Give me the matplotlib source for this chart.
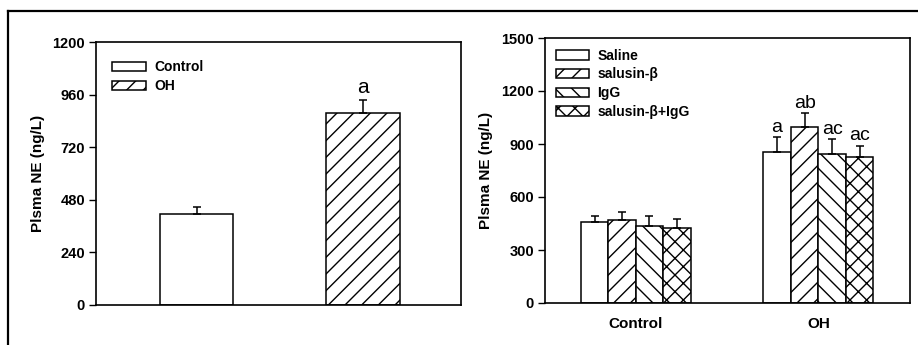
import matplotlib
matplotlib.use('Agg')
from matplotlib import pyplot as plt
from matplotlib.lines import Line2D
import numpy as np

plt.rcParams['font.family'] = ['Liberation Sans', 'DejaVu Sans']
plt.rcParams['hatch.linewidth'] = 1.0

# ---- left panel data
left_groups = ['Control', 'OH']
left_means = [415, 875]
left_err = [31, 60]
left_letters = ['', 'a']

# ---- right panel data
right_groups = ['Control', 'OH']
right_series = ['Saline', 'salusin-\u03b2', 'IgG', 'salusin-\u03b2+IgG']
saline = [457, 856]
salusin = [470, 994]
igg = [434, 842]
combo = [426, 828]
saline_err = [35, 82]
salusin_err = [47, 80]
igg_err = [57, 85]
combo_err = [49, 63]
oh_letters = ['a', 'ab', 'ac', 'ac']

fig = plt.figure(figsize=(9.18, 3.45), dpi=100)

# outer frame lines (cropped figure border)
fig.add_artist(Line2D([8/918, 1.0], [1 - 11/345, 1 - 11/345], color='black', lw=1.6))
fig.add_artist(Line2D([8/918, 8/918], [0, 1 - 11/345], color='black', lw=1.6))

def style_axes(ax):
    for s in ax.spines.values():
        s.set_linewidth(1.2)
    ax.tick_params(axis='y', direction='out', length=5, width=1.0, labelsize=10.5, pad=3)
    ax.tick_params(axis='x', length=0, labelsize=11, pad=10)
    for lab in ax.get_yticklabels() + ax.get_xticklabels():
        lab.set_fontweight('bold')

# ---- left
ax1 = fig.add_axes([96/918, 1 - 305/345, 365/918, 263/345])
x = np.arange(len(left_groups))
hatches_l = ['', '//']
w = 0.44
for i in range(len(left_groups)):
    ax1.bar(x[i], left_means[i], w, color='white', edgecolor='black', lw=1.1,
            hatch=hatches_l[i], label=left_groups[i], zorder=2)
    ax1.errorbar(x[i], left_means[i], yerr=[[0], [left_err[i]]], fmt='none',
                 ecolor='black', elinewidth=1.1, capsize=2.6, capthick=1.1, zorder=3)
    if left_letters[i]:
        ax1.text(x[i], left_means[i] + left_err[i] + 32, left_letters[i],
                 ha='center', va='baseline', fontsize=15)
ax1.set_xlim(-0.604, 1.589)
ax1.set_ylim(0, 1200)
ax1.set_yticks([0, 240, 480, 720, 960, 1200])
ax1.set_xticks([])
ax1.set_ylabel('Plsma NE (ng/L)', fontsize=11, fontweight='bold', labelpad=5)
style_axes(ax1)
ax1.legend(loc='upper left', bbox_to_anchor=(0.045, 0.93), frameon=False,
           borderpad=0, borderaxespad=0, handlelength=2.4, handleheight=0.7,
           labelspacing=0.35, handletextpad=0.6,
           prop={'size': 10, 'weight': 'bold'})

# ---- right
ax2 = fig.add_axes([545/918, 1 - 303/345, 365/918, 265/345])
xr = np.arange(len(right_groups))
vals = [saline, salusin, igg, combo]
errs = [saline_err, salusin_err, igg_err, combo_err]
hatches_r = ['', '//', '\\\\', 'xx']
bw = 0.1506
for k in range(4):
    pos = xr + (k - 1.5) * bw
    ax2.bar(pos, vals[k], bw, color='white', edgecolor='black', lw=1.1,
            hatch=hatches_r[k], label=right_series[k], zorder=2)
    ax2.errorbar(pos, vals[k], yerr=[np.zeros(2), errs[k]], fmt='none',
                 ecolor='black', elinewidth=1.1, capsize=2.8, capthick=1.1, zorder=3)
    ax2.text(pos[1], vals[k][1] + errs[k][1] + 30, oh_letters[k],
             ha='center', va='baseline', fontsize=14)
ax2.set_xlim(-0.497, 1.502)
ax2.set_ylim(0, 1500)
ax2.set_yticks([0, 300, 600, 900, 1200, 1500])
ax2.set_xticks(xr)
ax2.set_xticklabels(right_groups)
ax2.set_ylabel('Plsma NE (ng/L)', fontsize=11, fontweight='bold', labelpad=6)
style_axes(ax2)
ax2.legend(loc='upper left', bbox_to_anchor=(0.03, 0.96), frameon=False,
           borderpad=0, borderaxespad=0, handlelength=2.4, handleheight=0.7,
           labelspacing=0.35, handletextpad=0.6,
           prop={'size': 10, 'weight': 'bold'})

fig.savefig('out.png', dpi=100)
